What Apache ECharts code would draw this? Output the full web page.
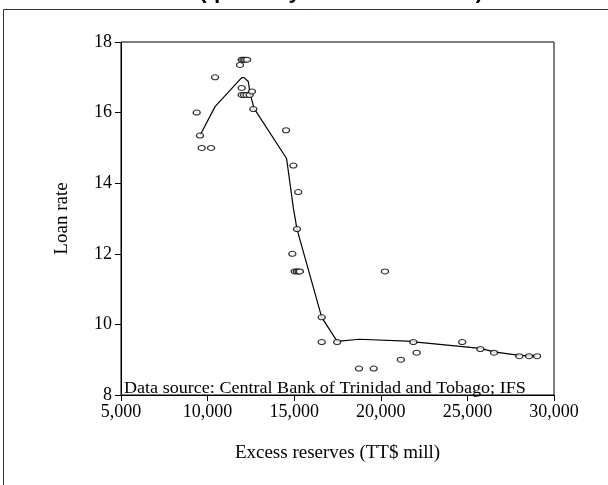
<!DOCTYPE html>
<html>
<head>
<meta charset="utf-8">
<script src="https://cdn.jsdelivr.net/npm/echarts@6/dist/echarts.min.js"></script>
<style>html,body{margin:0;padding:0;background:#fff;}#c{width:608px;height:485px;}</style>
</head>
<body>
<div id="c"></div>
<script>
// Observed quarterly points: [excess reserves (TT$ mill), loan rate]
const scatterPoints = [
  [9370,16.0],[9560,15.35],[9660,15.0],[10200,15.0],[10430,17.0],
  [11870,17.35],[11970,17.5],[12070,17.5],[12170,17.5],[12280,17.5],
  [11970,16.7],[11970,16.5],[12100,16.5],[12250,16.5],[12430,16.5],
  [12560,16.6],[12640,16.1],[14530,15.5],[14950,14.5],[15230,13.75],
  [15160,12.7],[14890,12.0],[15030,11.5],[15150,11.5],[15250,11.5],
  [15330,11.5],[20240,11.5],[16590,10.2],[16590,9.5],[17480,9.5],
  [18740,8.75],[19590,8.75],[21160,9.0],[21880,9.5],[22070,9.2],
  [24700,9.5],[25750,9.3],[26540,9.2],[28000,9.1],[28560,9.1],[29020,9.1]
];
// Fitted (smoothed) curve
const fitCurve = [
  [9560,15.35],[10430,16.17],[11970,16.99],[12100,16.99],[12350,16.88],
  [12450,16.55],[12680,16.12],[14560,14.7],[14950,13.3],[15160,12.7],
  [16590,10.2],[17480,9.52],[18740,9.58],[21880,9.52],[22070,9.5],
  [25750,9.32],[26540,9.22],[28000,9.12],[29020,9.1]
];
const xTicks = [5000,10000,15000,20000,25000,30000];
const yTicks = [8,10,12,14,16,18];
const xTitle = 'Excess reserves (TT$ mill)';
const yTitle = 'Loan rate';
const sourceNote = 'Data source: Central Bank of Trinidad and Tobago; IFS';
const chartTitle = 'Loan Rates (quarterly data 1995 - 2005)';

const serif = 'Liberation Serif';
const chart = echarts.init(document.getElementById('c'), null, {renderer:'canvas'});
chart.setOption({
  animation:false,
  backgroundColor:'#fff',
  grid:{left:121,right:54,top:42,bottom:90,show:true,borderColor:'#000',borderWidth:1,backgroundColor:'transparent'},
  xAxis:{
    type:'value',min:xTicks[0],max:xTicks[xTicks.length-1],interval:5000,
    name:xTitle,nameLocation:'middle',nameGap:49,
    nameTextStyle:{fontFamily:serif,fontSize:19,color:'#000'},
    axisLine:{show:true,lineStyle:{color:'#000',width:1}},
    axisTick:{show:true,length:6,lineStyle:{color:'#000'}},
    axisLabel:{fontFamily:serif,fontSize:18,color:'#000',margin:8,
      formatter:v=>v.toLocaleString('en-US')},
    splitLine:{show:false}
  },
  yAxis:{
    type:'value',min:yTicks[0],max:yTicks[yTicks.length-1],interval:2,
    name:yTitle,nameLocation:'middle',nameGap:49,nameRotate:90,
    nameTextStyle:{fontFamily:serif,fontSize:19,color:'#000'},
    axisLine:{show:true,lineStyle:{color:'#000',width:1}},
    axisTick:{show:true,length:6,lineStyle:{color:'#000'}},
    axisLabel:{fontFamily:serif,fontSize:18,color:'#000',margin:9},
    splitLine:{show:false}
  },
  series:[
    {type:'line',data:fitCurve,showSymbol:false,symbol:'none',
      lineStyle:{color:'#000',width:1.2},z:2},
    {type:'scatter',data:scatterPoints,symbol:'circle',symbolSize:[7,5],
      itemStyle:{color:'#fff',borderColor:'#000',borderWidth:1.2},z:3}
  ],
  graphic:[
    {type:'rect',shape:{x:3.5,y:9.5,width:700,height:600},
      style:{fill:'none',stroke:'#333',lineWidth:1},z:-10},
    {type:'text',x:483,y:3,
      style:{text:chartTitle,font:'bold 22px "Liberation Sans", Arial',fill:'#000',textAlign:'right',verticalAlign:'bottom'}},
    {type:'text',x:124,y:389,
      style:{text:sourceNote,fontFamily:serif,fontSize:16,fill:'#000',verticalAlign:'middle'},
      scaleX:1.13}
  ]
});
</script>
</body>
</html>
